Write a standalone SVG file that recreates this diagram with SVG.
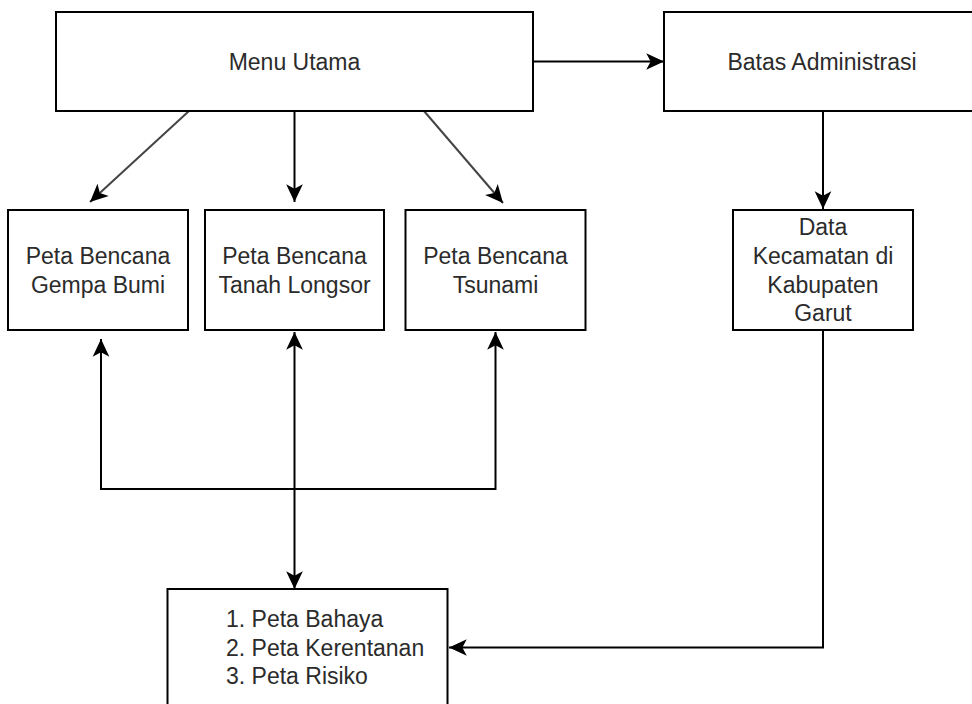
<svg xmlns="http://www.w3.org/2000/svg" width="972" height="704" viewBox="0 0 972 704">
<style>
.box{fill:#fff;stroke:#000;stroke-width:2}
.t{font-family:"Liberation Sans",Arial,sans-serif;font-size:23px;fill:#2b2b2b;text-anchor:middle}
.tl{font-family:"Liberation Sans",Arial,sans-serif;font-size:23px;fill:#2b2b2b;text-anchor:start}
.c{fill:none;stroke:#000;stroke-width:2}
.d{fill:none;stroke:#444;stroke-width:2}
</style>
<defs>
<marker id="ah" markerUnits="userSpaceOnUse" markerWidth="20" markerHeight="20" viewBox="-1 -9 18 18" refX="16" refY="0" orient="auto-start-reverse">
<path d="M0,-7.5 L16,0 L0,7.5 L4,0 Z" fill="#000"/>
</marker>
</defs>
<rect width="972" height="704" fill="#fff"/>
<g id="connectors">
<path class="c" d="M533,61.5 L664,61.5" marker-end="url(#ah)"/>
<path class="d" d="M189,111 L90,202" marker-end="url(#ah)"/>
<path class="c" d="M294.5,111 L294.5,202" marker-end="url(#ah)"/>
<path class="d" d="M424,111 L503,203" marker-end="url(#ah)"/>
<path class="c" d="M823,111 L823,209" marker-end="url(#ah)"/>
<path class="c" d="M294.5,489 L101,489 L101,339" marker-end="url(#ah)"/>
<path class="c" d="M294.5,489 L495.5,489 L495.5,332" marker-end="url(#ah)"/>
<path class="c" d="M294.5,332 L294.5,589" marker-start="url(#ah)" marker-end="url(#ah)"/>
<path class="c" d="M823,330 L823,647.5 L449,647.5" marker-end="url(#ah)"/>
</g>
<g id="menu-utama">
<rect class="box" x="56" y="12" width="477" height="99"/>
<text class="t" x="294.5" y="69.5">Menu Utama</text>
</g>
<g id="batas-administrasi">
<rect class="box" x="664" y="12" width="320" height="99"/>
<text class="t" x="822" y="69.5">Batas Administrasi</text>
</g>
<g id="gempa-bumi">
<rect class="box" x="8" y="210" width="180" height="120"/>
<text class="t" x="98" y="264">Peta Bencana</text>
<text class="t" x="98" y="292.5">Gempa Bumi</text>
</g>
<g id="tanah-longsor">
<rect class="box" x="205" y="210" width="179" height="120"/>
<text class="t" x="294.5" y="264">Peta Bencana</text>
<text class="t" x="294.5" y="292.5">Tanah Longsor</text>
</g>
<g id="tsunami">
<rect class="box" x="405.5" y="210" width="180" height="120"/>
<text class="t" x="495.5" y="264">Peta Bencana</text>
<text class="t" x="495.5" y="292.5">Tsunami</text>
</g>
<g id="data-kecamatan">
<rect class="box" x="733" y="210" width="180" height="120"/>
<text class="t" x="823" y="235">Data</text>
<text class="t" x="823" y="264">Kecamatan di</text>
<text class="t" x="823" y="292.5">Kabupaten</text>
<text class="t" x="823" y="321">Garut</text>
</g>
<g id="peta-output">
<rect class="box" x="167.5" y="589" width="280" height="130"/>
<text class="tl" x="226" y="627">1. Peta Bahaya</text>
<text class="tl" x="226" y="655.5">2. Peta Kerentanan</text>
<text class="tl" x="226" y="684">3. Peta Risiko</text>
</g>
</svg>
